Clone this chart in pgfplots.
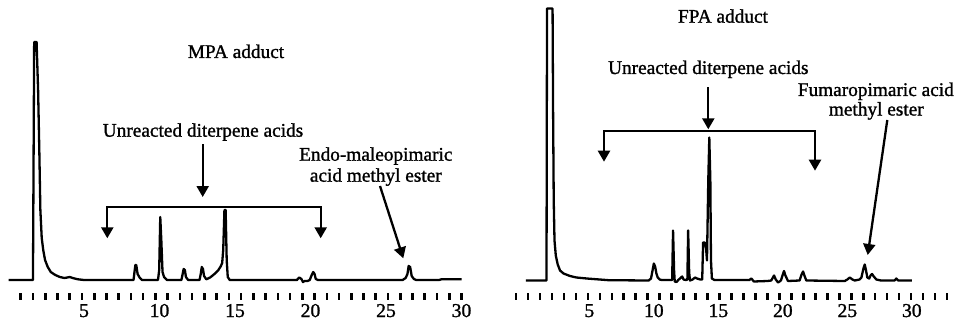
\documentclass[border=0pt]{standalone}
\usepackage{pgfplots}
\pgfplotsset{compat=1.18}
\usepackage{fontspec}
\setmainfont{Liberation Serif}[FakeBold=1.2]
\usetikzlibrary{arrows.meta}

\pgfplotstableread{
x y
0.00 0
1.62 0
1.70 238
1.86 238
1.96 190
2.04 130
2.11 70
2.20 42
2.30 30
2.42 20
2.60 13
2.80 8
3.10 5
3.40 3
3.70 2
3.90 2.5
4.05 3
4.25 2
4.60 0.7
5.00 0
8.28 0
8.40 15
8.46 15
8.55 6
8.70 2
8.85 0
9.90 0
9.98 10
10.05 63
10.12 40
10.20 8
10.30 3
10.50 0
11.45 0
11.52 5
11.60 11
11.68 10
11.75 3
11.90 0
12.65 0
12.72 5
12.80 13
12.88 11
12.95 4
13.10 0.7
13.35 2.5
13.56 5
13.75 7.5
13.90 10
14.05 13.5
14.15 17
14.22 30
14.30 70
14.38 70
14.45 20
14.52 3
14.65 0
19.10 0
19.25 2.5
19.40 1
19.50 -2
19.62 -1
19.80 -1
19.95 0
20.08 5
20.18 8
20.27 6
20.35 1
20.50 0
26.10 0
26.30 2
26.42 6
26.50 14
26.60 13
26.70 4
26.85 1
27.00 0
28.50 0
28.70 0.8
30.00 0.8
}\mpa

\pgfplotstableread{
x y
0.09 0
1.68 0
1.72 272
2.15 272
2.19 170
2.24 80
2.30 40
2.40 25
2.55 16
2.73 10
3.00 7
3.50 4.5
4.00 3
4.80 2
5.80 1
6.50 0.3
9.60 0
9.78 2
9.90 10
10.00 17
10.10 14
10.20 7
10.30 3
10.45 1
10.60 0.5
11.38 0.5
11.42 1
11.49 50
11.57 10
11.62 -1
11.75 -1.5
11.90 0.5
12.10 3
12.20 4
12.30 1
12.50 0.5
12.60 1
12.66 50
12.74 8
12.80 0
13.00 1
13.20 3
13.35 2
13.60 1
13.75 1
13.82 38
13.95 38
14.05 32
14.12 20
14.22 100
14.30 143
14.38 100
14.43 20
14.50 2
14.70 0.5
17.40 0.5
17.56 2
17.75 -1
18.80 -0.5
19.10 0
19.32 5
19.45 1
19.63 -2
19.85 0
20.00 6
20.09 9.5
20.20 5
20.40 -0.5
21.30 0
21.45 6
21.57 9
21.70 4
21.82 0
24.80 -0.5
25.00 1
25.19 3
25.40 1
25.57 0
25.95 1
26.09 3
26.25 12
26.35 16
26.45 10
26.55 3
26.70 2
26.80 5
26.92 6.5
27.05 4
27.25 1
27.60 0
28.65 0
28.80 2
28.95 0
30.00 0
}\fpa

\begin{document}
\fontsize{19.3}{22}\selectfont
\begin{tikzpicture}
\useasboundingbox (0,0) rectangle (958pt,322pt);
\pgfplotsset{chrom/.style={
  axis x line=bottom, axis y line=none,
  x axis line style={draw=none},
  ytick=\empty,
  xtick={5,10,15,20,25,30},
  major tick length=0pt, minor tick length=7pt,
  tick align=center,
  tick style={black, line width=2.6pt},
  xticklabel style={anchor=base, yshift=-21pt, font=\fontsize{19.6}{22}\selectfont},
  /pgf/number format/assume math mode=true,
  clip=false,
  anchor=south west,
  y=1pt,
}}
\begin{axis}[chrom, at={(8.5pt,26pt)}, x=15.1pt, xmin=0, xmax=30, ymin=-16, ymax=240,
  minor xtick={0.8108,1.6216,...,30.01}]
\addplot[black, line width=2.3pt, line join=round] table[x=x,y=y] {\mpa};
\end{axis}
\begin{axis}[chrom, at={(515.8pt,26pt)}, x=12.9pt, xmin=-0.7, xmax=32.8, ymin=-15.5, ymax=274,
  minor xtick={-0.682,0.246,...,32.8}]
\addplot[black, line width=2.3pt, line join=round] table[x=x,y=y] {\fpa};
\end{axis}
\begin{scope}[x=1pt, y=-1pt, shift={(0pt,322pt)}, line width=2.3pt,
  arr/.style={-{Triangle[width=12pt,length=11pt]}}]
  % left panel
  \node[anchor=base, inner sep=0] at (236,58) {MPA adduct};
  \node[anchor=base, inner sep=0] at (203,136.7) {Unreacted diterpene acids};
  \draw[arr] (202.7,144) -- (202.7,197);
  \draw[{Triangle[width=12pt,length=11pt]}-{Triangle[width=12pt,length=11pt]}, line join=miter]
    (107.3,238.3) -- (107.3,206.7) -- (320.7,206.7) -- (320.7,238.3);
  \node[anchor=base, inner sep=0] at (375.8,160.7) {Endo-maleopimaric};
  \node[anchor=base, inner sep=0] at (375.8,181.7) {acid methyl ester};
  \draw[arr] (380,186) -- (403.3,258.3);
  % right panel
  \node[anchor=base, inner sep=0] at (723,22.7) {FPA adduct};
  \node[anchor=base, inner sep=0] at (708.3,74) {Unreacted diterpene acids};
  \draw[arr] (708.3,87.3) -- (708.3,129.3);
  \draw[{Triangle[width=12pt,length=11pt]}-{Triangle[width=12pt,length=11pt]}, line join=miter]
    (604,161.7) -- (604,130.7) -- (815,130.7) -- (815,170.7);
  \node[anchor=base, inner sep=0] at (875.8,96) {Fumaropimaric acid};
  \node[anchor=base, inner sep=0] at (876.3,115.5) {methyl ester};
  \draw[arr] (887.3,120) -- (867.7,255);
\end{scope}
\end{tikzpicture}
\end{document}
